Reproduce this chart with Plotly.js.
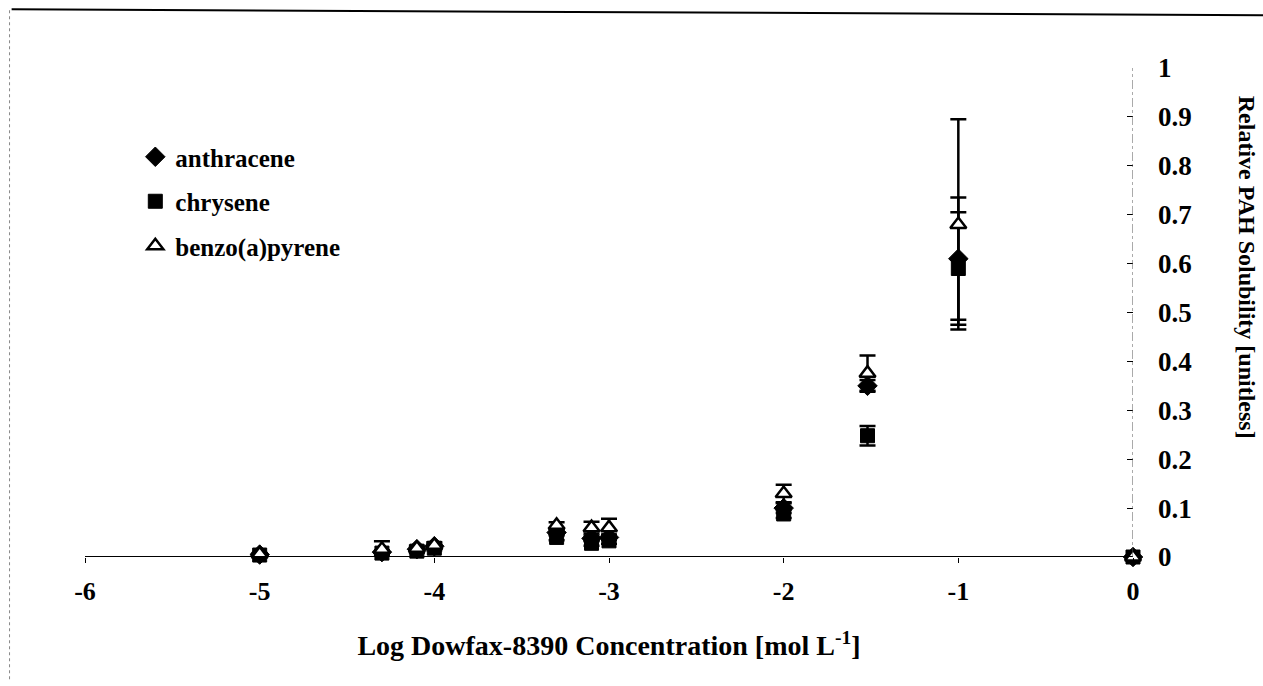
<!DOCTYPE html>
<html>
<head>
<meta charset="utf-8">
<script src="https://cdn.plot.ly/plotly-3.0.1.min.js"></script>
<style>html,body{margin:0;padding:0;background:#fff;}#chart{width:1263px;height:686px;}</style>
</head>
<body>
<div id="chart"></div>
<script>
// Log Dowfax-8390 concentration [mol/L]
const logConc = [-5, -4.3, -4.1, -4, -3.3, -3.1, -3, -2, -1.52, -1, 0];
// Relative PAH solubility
const anthracene    = [0.005, 0.010, 0.016, 0.022, 0.050, 0.038, 0.040, 0.100, 0.350, 0.610, 0];
const anthraceneErr = [0.002, 0.004, 0.004, 0.005, 0.006, 0.006, 0.006, 0.010, 0.012, 0.125, 0];
const chrysene      = [0.004, 0.008, 0.012, 0.018, 0.040, 0.028, 0.033, 0.088, 0.248, 0.590, 0];
const chryseneErr   = [0.002, 0.004, 0.004, 0.004, 0.006, 0.005, 0.006, 0.008, 0.020, 0.115, 0];
const benzoPyrene   = [0.006, 0.016, 0.018, 0.024, 0.065, 0.060, 0.060, 0.130, 0.376, 0.680, 0];
const benzoPyreneErr= [0.002, 0.016, 0.005, 0.006, 0.006, 0.012, 0.018, 0.018, 0.036, 0.215, 0];
const seriesNames = ['anthracene', 'chrysene', 'benzo(a)pyrene'];
const xTicks = [-6, -5, -4, -3, -2, -1, 0];
const yTicks = [0, 0.1, 0.2, 0.3, 0.4, 0.5, 0.6, 0.7, 0.8, 0.9, 1];

const FONT = 'Liberation Serif, Times New Roman, serif';
function errBar(arr){ return {type:'data', array:arr, visible:true, color:'#000', thickness:2.5, width:8}; }

const traces = [
  {x: logConc, y: anthracene, name: seriesNames[0], mode:'markers', type:'scatter', cliponaxis:false,
   legendgroup:'a', marker:{symbol:'diamond', size:15, color:'#000', line:{color:'#000', width:1}}, error_y: errBar(anthraceneErr)},
  {x: logConc, y: chrysene, name: seriesNames[1], mode:'markers', type:'scatter', cliponaxis:false,
   legendgroup:'c', marker:{symbol:'square', size:14, color:'#000', line:{color:'#000', width:1}}, error_y: errBar(chryseneErr)},
  {x: logConc, y: benzoPyrene, name: seriesNames[2], mode:'markers', type:'scatter', cliponaxis:false,
   legendgroup:'b', marker:{symbol:'triangle-up', size:14, color:'#fff', line:{color:'#000', width:2.5}}, error_y: errBar(benzoPyreneErr)}
];

const layout = {
  width:1263, height:686,
  margin:{l:85, r:130, t:68, b:129},
  paper_bgcolor:'#fff', plot_bgcolor:'#fff',
  font:{family:FONT, color:'#000', size:25},
  showlegend:true,
  legend:{x:0.048, y:0.865, xanchor:'left', yanchor:'top', bgcolor:'rgba(0,0,0,0)',
          font:{family:FONT, size:25, weight:'bold', color:'#000'}, tracegroupgap:9, itemwidth:30},
  xaxis:{range:[-6,0], tickvals:xTicks, ticktext:xTicks.map(String), showgrid:false, zeroline:false,
         showline:false, ticks:'outside', ticklen:5, tickcolor:'#000', tickwidth:1, ticklabelstandoff:6,
         tickfont:{family:FONT, size:26, weight:'bold'},
         title:{text:'Log Dowfax-8390 Concentration [mol L<sup>-1</sup>]', font:{family:FONT, size:28, weight:'bold'}, standoff:30}},
  yaxis:{range:[0,1], side:'right', tickvals:yTicks, ticktext:yTicks.map(String), showgrid:false, zeroline:false,
         showline:false, ticks:'inside', ticklen:6, tickcolor:'#000', tickwidth:1, ticklabelstandoff:24,
         tickfont:{family:FONT, size:27, weight:'bold'}},
  shapes:[
    {type:'line', xref:'x', yref:'y', x0:-6, x1:0, y0:0, y1:0, line:{color:'#000', width:2}},
    {type:'line', xref:'x', yref:'y', x0:0, x1:0, y0:0, y1:1, line:{color:'#555', width:1, dash:'dashdot'}},
    {type:'line', xref:'paper', yref:'paper', x0:-0.07, x1:1.125, y0:1.12, y1:1.108, line:{color:'#000', width:2}},
    {type:'line', xref:'paper', yref:'paper', x0:-0.072, x1:-0.072, y0:-0.25, y1:1.12, line:{color:'#888', width:1, dash:'dot'}}
  ],
  annotations:[
    {text:'Relative PAH Solubility [unitless]', xref:'paper', yref:'paper', x:1.109, y:0.593,
     xanchor:'center', yanchor:'middle', textangle:90, showarrow:false, font:{family:FONT, size:24, weight:'bold'}}
  ]
};

Plotly.newPlot('chart', traces, layout, {displayModeBar:false, staticPlot:true});
</script>
</body>
</html>
